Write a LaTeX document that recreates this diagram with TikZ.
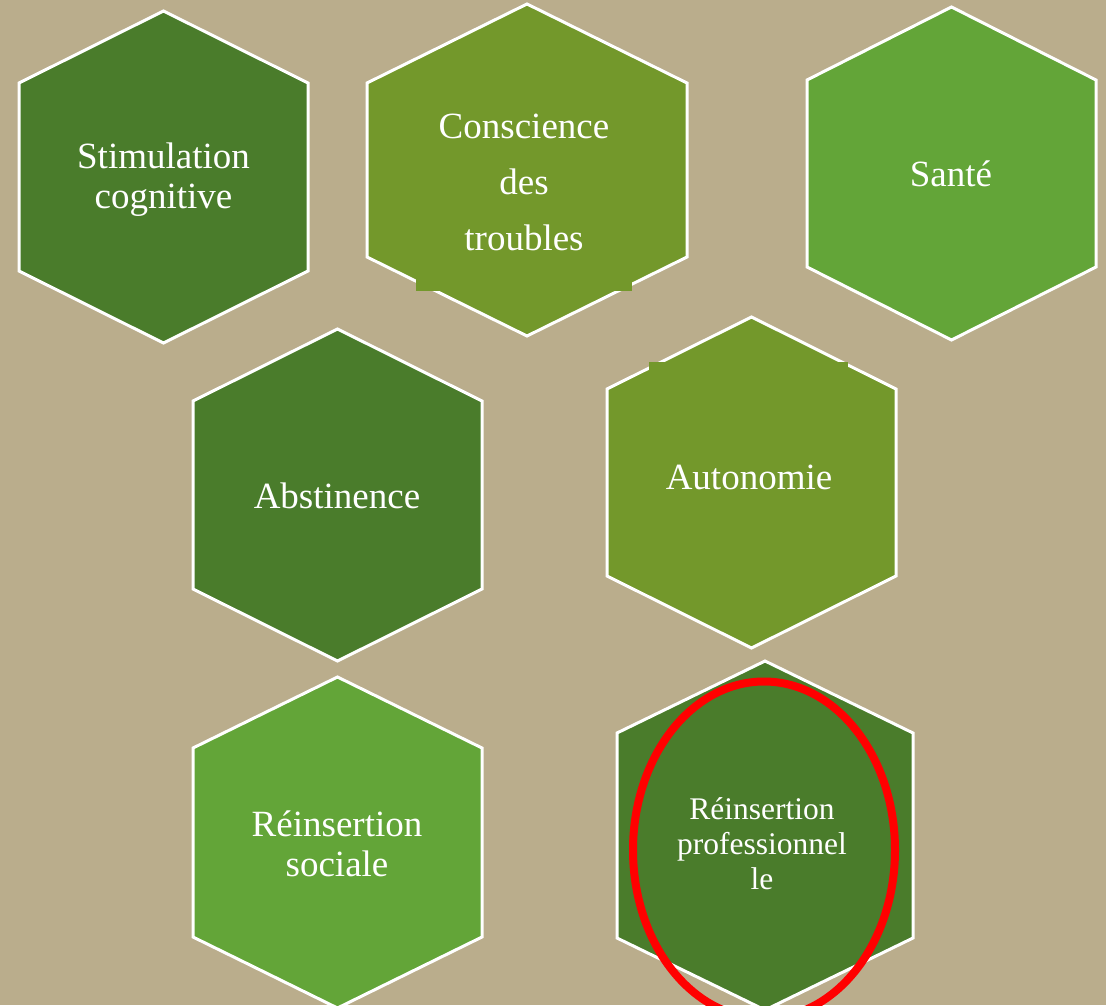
\documentclass[tikz,border=0pt]{standalone}
\usepackage{fontspec}
\setmainfont{Liberation Serif}
\usepackage{xcolor}
\usepackage{tikz}
\usetikzlibrary{shapes,positioning}

\definecolor{sand}{RGB}{186,173,140}
\definecolor{darkleaf}{RGB}{74,124,43}
\definecolor{oliveleaf}{RGB}{115,152,43}
\definecolor{lightleaf}{RGB}{99,165,56}

\tikzset{hexa/.style={draw=white,line width=1.5pt,line join=miter},
         txt/.style={text=white,align=center,font=\fontsize{18.5}{20}\selectfont},
         ring/.style={draw=red,line width=4pt}}

% colour, centre x, centre y, half width, half height, tip height
\newcommand{\hexa}[6]{\draw[hexa,fill=#1] (#2,{#3-#5}) -- ({#2+#4},{#3-#5+#6}) -- ({#2+#4},{#3+#5-#6})
  -- (#2,{#3+#5}) -- ({#2-#4},{#3+#5-#6}) -- ({#2-#4},{#3-#5+#6}) -- cycle;}

\begin{document}
\begin{tikzpicture}[x=0.5pt,y=-0.5pt]
        \useasboundingbox (0,0) rectangle (1106,1005);
        \clip (0,0) rectangle (1106,1005);
        \fill[sand] (0,0) rectangle (1106,1005);

        \hexa{darkleaf}{163.5}{177}{144.5}{166}{72}
        \hexa{oliveleaf}{527}{170}{160}{166}{79}
        \hexa{lightleaf}{951.5}{173.5}{144.5}{166.5}{73}
        \hexa{darkleaf}{337.5}{495}{144.5}{166}{72}
        \hexa{oliveleaf}{751.5}{482.5}{144.5}{165.5}{72}
        \hexa{lightleaf}{337.5}{842.5}{144.5}{165.5}{71}
        \hexa{darkleaf}{765}{835.5}{148}{174.5}{72}

        % text boxes
        \fill[oliveleaf] (416,100) rectangle (632,291);
        \fill[oliveleaf] (649,362) rectangle (848,560);

        \node[txt] (stim) at (163.5,180) {Stimulation\\cognitive};
        \node[txt,font=\fontsize{18.5}{28}\selectfont] (consc) at (524,182.5) {Conscience\\des\\troubles};
        \node[txt] (sante) at (951,174) {Santé};
        \node[txt] (abst) at (337,495.5) {Abstinence};
        \node[txt] (auto) at (749,477) {Autonomie};
        \node[txt] (rsoc) at (337,843.5) {Réinsertion\\sociale};
        \node[txt,font=\fontsize{15.75}{17.5}\selectfont] (rpro) at (762,843.5) {Réinsertion\\professionnel\\le};

        \draw[ring] (764,850) ellipse (131 and 168.5);
    \end{tikzpicture}
\end{document}
